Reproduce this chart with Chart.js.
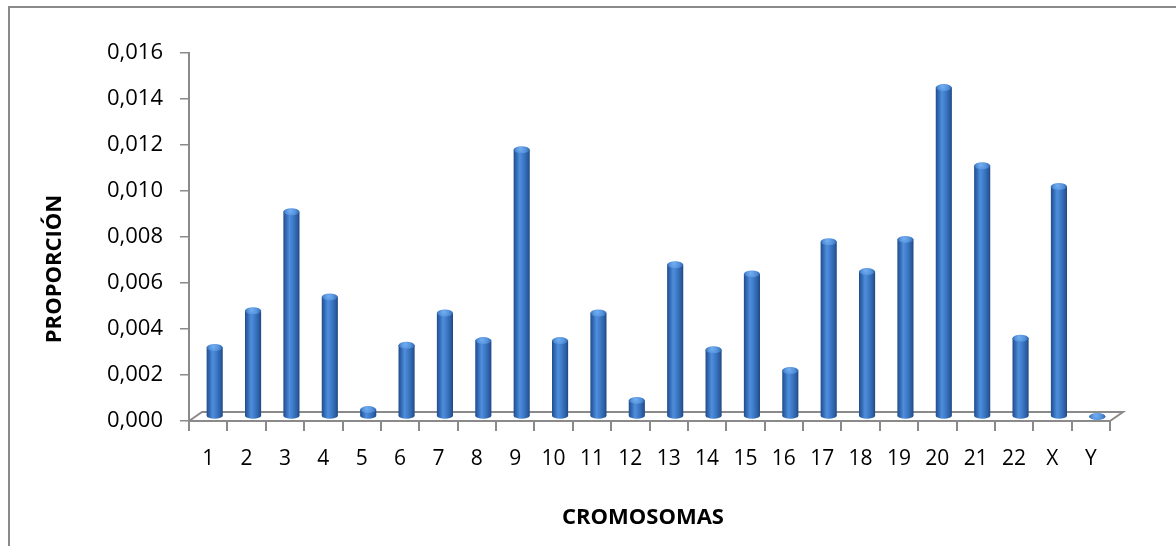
<!DOCTYPE html>
<html>
<head>
<meta charset="utf-8">
<script src="https://cdn.jsdelivr.net/npm/chart.js@4.4.1/dist/chart.umd.min.js"></script>
<style>
  html, body { margin: 0; padding: 0; background: #ffffff; }
  #wrap { width: 1176px; height: 546px; }
</style>
</head>
<body>
<div id="wrap"><canvas id="grafico" width="1176" height="546"></canvas></div>
<script>
// Cromosomas y proporción observada en cada uno
const cromosomas = ['1', '2', '3', '4', '5', '6', '7', '8', '9', '10', '11', '12',
  '13', '14', '15', '16', '17', '18', '19', '20', '21', '22', 'X', 'Y'];
const proporcion = [0.0030, 0.0046, 0.0089, 0.0052, 0.0003, 0.0031, 0.0045, 0.0033,
  0.0116, 0.0033, 0.0045, 0.0007, 0.0066, 0.0029, 0.0062, 0.0020, 0.0076, 0.0063,
  0.0077, 0.0143, 0.0109, 0.0034, 0.0100, 0.0000];
const ejeYMin = 0;
const ejeYMax = 0.016;
const ejeYPaso = 0.002;
const tituloX = 'CROMOSOMAS';
const tituloY = 'PROPORCIÓN';

const GRIS = '#8a8a8a';
const FUENTE = '"Open Sans", "DejaVu Sans", sans-serif';
// Desplazamiento del fondo del suelo en perspectiva
const PROF_X = 13, PROF_Y = -9;

function formatoComa(v) {
  return Number(v).toFixed(3).replace('.', ',');
}

function degradadoCilindro(ctx, x, w) {
  const g = ctx.createLinearGradient(x - w / 2, 0, x + w / 2, 0);
  g.addColorStop(0, '#224d88');
  g.addColorStop(0.15, '#2f65b0');
  g.addColorStop(0.38, '#4f8edb');
  g.addColorStop(0.58, '#3f7dcb');
  g.addColorStop(0.86, '#2c5ea4');
  g.addColorStop(1, '#1f4780');
  return g;
}

// Suelo en perspectiva, marco exterior, tapas de los cilindros y títulos de ejes
const decorado3d = {
  id: 'decorado3d',
  beforeDraw(chart) {
    const { ctx } = chart;
    ctx.save();
    ctx.fillStyle = '#ffffff';
    ctx.fillRect(0, 0, chart.width, chart.height);
    ctx.strokeStyle = GRIS;
    ctx.lineWidth = 2;
    ctx.strokeRect(9, 7, chart.width + 20, chart.height + 20);
    ctx.restore();
  },
  beforeDatasetsDraw(chart) {
    const { ctx, chartArea: a } = chart;
    ctx.save();
    ctx.strokeStyle = GRIS;
    ctx.lineWidth = 2;
    ctx.beginPath();
    ctx.moveTo(a.left, a.bottom);
    ctx.lineTo(a.left + PROF_X, a.bottom + PROF_Y);
    ctx.lineTo(a.right + PROF_X, a.bottom + PROF_Y);
    ctx.lineTo(a.right, a.bottom);
    ctx.stroke();
    ctx.restore();
    // las barras se asientan a media profundidad del suelo
    ctx.save();
    ctx.translate(PROF_X / 2, PROF_Y / 2);
  },
  afterDatasetsDraw(chart) {
    const { ctx } = chart;
    const meta = chart.getDatasetMeta(0);
    meta.data.forEach((bar) => {
      const { x, y, base, width } = bar.getProps(['x', 'y', 'base', 'width'], true);
      const rx = width / 2;
      // base redondeada
      ctx.beginPath();
      ctx.ellipse(x, base, rx, 3, 0, 0, Math.PI * 2);
      ctx.fillStyle = degradadoCilindro(ctx, x, width);
      ctx.fill();
      // tapa superior
      const g = ctx.createRadialGradient(x - 1.5, y - 1, 0.5, x, y, rx);
      g.addColorStop(0, '#72acee');
      g.addColorStop(0.6, '#5190db');
      g.addColorStop(1, '#3166aa');
      ctx.beginPath();
      ctx.ellipse(x, y, rx, 3.5, 0, 0, Math.PI * 2);
      ctx.fillStyle = g;
      ctx.fill();
    });
    ctx.restore();

    // títulos de los ejes
    ctx.save();
    ctx.fillStyle = '#000000';
    ctx.font = 'bold 22px ' + FUENTE;
    ctx.textAlign = 'center';
    ctx.textBaseline = 'middle';
    ctx.fillText(tituloX, 643, 518);
    ctx.translate(55, 269);
    ctx.rotate(-Math.PI / 2);
    ctx.fillText(tituloY, 0, 0);
    ctx.restore();
  }
};

new Chart(document.getElementById('grafico'), {
  type: 'bar',
  data: {
    labels: cromosomas,
    datasets: [{
      label: tituloY,
      data: proporcion,
      backgroundColor: (c) => {
        const chart = c.chart;
        if (!chart.chartArea || c.dataIndex === undefined) return '#3a78c8';
        const xs = chart.scales.x;
        // el lienzo ya está desplazado al dibujar, así que se usa la x propia de la escala
        const cx = xs.getPixelForValue(c.dataIndex);
        const w = (xs.width / cromosomas.length) * 0.42;
        return degradadoCilindro(chart.ctx, cx, w);
      },
      borderWidth: 0,
      barPercentage: 0.42,
      categoryPercentage: 1,
      clip: false
    }]
  },
  options: {
    responsive: false,
    animation: false,
    devicePixelRatio: 1,
    layout: { padding: { left: 0, top: 53, right: 66, bottom: 0 } },
    plugins: {
      legend: { display: false },
      tooltip: { enabled: false }
    },
    scales: {
      x: {
        offset: true,
        grid: {
          offset: true,
          drawOnChartArea: false,
          drawTicks: true,
          tickLength: 10,
          color: GRIS,
          lineWidth: 2
        },
        border: { display: true, color: GRIS, width: 2 },
        ticks: {
          color: '#000000',
          font: { family: FUENTE, size: 21 },
          padding: 15,
          maxRotation: 0,
          autoSkip: false
        },
        afterFit(scale) { scale.height = 125; }
      },
      y: {
        min: ejeYMin,
        max: ejeYMax,
        grid: {
          drawOnChartArea: false,
          drawTicks: true,
          tickLength: 9,
          color: GRIS,
          lineWidth: 1.5
        },
        border: { display: true, color: GRIS, width: 2 },
        ticks: {
          stepSize: ejeYPaso,
          color: '#000000',
          font: { family: FUENTE, size: 22 },
          padding: 17,
          callback: (v) => formatoComa(v)
        },
        afterFit(scale) { scale.width = 189; }
      }
    }
  },
  plugins: [decorado3d]
});
</script>
</body>
</html>
